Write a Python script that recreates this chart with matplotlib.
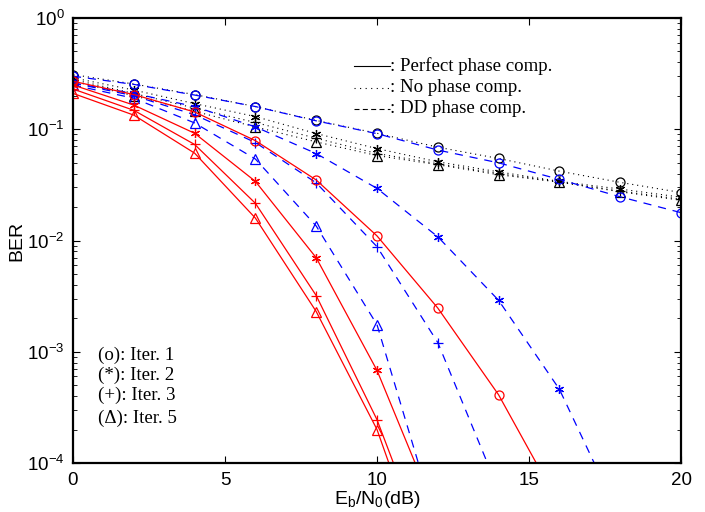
import matplotlib
matplotlib.use("Agg")
import matplotlib.pyplot as plt
import numpy as np

# ---------------- data ----------------
snr_full = [0, 2, 4, 6, 8, 10, 12, 14, 16, 18, 20]

# Perfect phase compensation (red, solid)
perf_x_it1 = [0, 2, 4, 6, 8, 10, 12, 14, 16]
perf_it1 = [0.27, 0.205, 0.143, 0.079, 0.035, 0.011, 0.00247, 0.00041, 4.2e-5]
perf_x_it2 = [0, 2, 4, 6, 8, 10, 12]
perf_it2 = [0.25, 0.165, 0.092, 0.034, 0.0070, 6.8e-4, 3.2e-5]
perf_x_it3 = [0, 2, 4, 6, 8, 10, 12]
perf_it3 = [0.23, 0.148, 0.073, 0.0216, 0.0032, 2.45e-4, 8.9e-6]
perf_x_it5 = [0, 2, 4, 6, 8, 10, 12]
perf_it5 = [0.21, 0.134, 0.061, 0.0159, 0.0023, 2.0e-4, 5.7e-6]

# DD phase compensation (blue, dashed)
dd_x_it1 = snr_full
dd_it1 = [0.30, 0.253, 0.203, 0.16, 0.119, 0.0913, 0.065, 0.0499, 0.0354, 0.0247, 0.0178]
dd_x_it2 = [0, 2, 4, 6, 8, 10, 12, 14, 16, 18]
dd_it2 = [0.26, 0.21, 0.16, 0.105, 0.0605, 0.0294, 0.0108, 0.0029, 4.6e-4, 3.2e-5]
dd_x_it3 = [0, 2, 4, 6, 8, 10, 12, 14]
dd_it3 = [0.26, 0.20, 0.135, 0.076, 0.033, 0.0088, 0.00121, 5.7e-5]
dd_x_it5 = [0, 2, 4, 6, 8, 10, 12]
dd_it5 = [0.25, 0.19, 0.114, 0.054, 0.0135, 0.00175, 2.6e-5]

# No phase compensation (black, dotted)
no_it1 = [0.31, 0.255, 0.205, 0.16, 0.12, 0.092, 0.069, 0.0546, 0.042, 0.0333, 0.027]
no_it2 = [0.29, 0.225, 0.17, 0.13, 0.0915, 0.067, 0.051, 0.0414, 0.034, 0.029, 0.0245]
no_it3 = [0.28, 0.21, 0.155, 0.115, 0.083, 0.0605, 0.049, 0.040, 0.0335, 0.0278, 0.0235]
no_it5 = [0.27, 0.20, 0.145, 0.105, 0.077, 0.058, 0.048, 0.039, 0.0335, 0.0274, 0.023]

x_ticks = [0, 5, 10, 15, 20]
legend_lines = [": Perfect phase comp.", ": No phase comp.", ": DD phase comp."]
iter_labels = ["(o): Iter. 1", "(*): Iter. 2", "(+): Iter. 3", "(\u0394): Iter. 5"]

# ---------------- style ----------------
plt.rcParams['font.family'] = ['Liberation Sans', 'DejaVu Sans']
plt.rcParams['mathtext.default'] = 'regular'

fig = plt.figure(figsize=(7.05, 5.12), dpi=100)
ax = fig.add_axes([73/705, 1 - 463/512, 608/705, 445/512])

asterisk = (6, 2, 0)
markers = ['o', asterisk, '+', '^']
ms = 6.5

no_style = dict(color='black', lw=0.8, linestyle=(0, (1, 3.5)))
dd_style = dict(color='#0000ff', lw=0.9, linestyle=(0, (6.5, 5.5)))
perf_style = dict(color='#ff0000', lw=0.9, linestyle='-')

for ys, m in zip([no_it1, no_it2, no_it3, no_it5], markers):
    ax.plot(snr_full, ys, marker=m, ms=ms, mfc='none', mew=0.9, **no_style)

for xs, ys, m in zip([dd_x_it1, dd_x_it2, dd_x_it3, dd_x_it5],
                     [dd_it1, dd_it2, dd_it3, dd_it5], markers):
    ax.plot(xs, ys, marker=m, ms=ms, mfc='none', mew=0.9, **dd_style)

for xs, ys, m in zip([perf_x_it1, perf_x_it2, perf_x_it3, perf_x_it5],
                     [perf_it1, perf_it2, perf_it3, perf_it5], markers):
    ax.plot(xs, ys, marker=m, ms=ms, mfc='none', mew=0.9, **perf_style)

ax.set_yscale('log')
ax.set_xlim(0, 20)
ax.set_ylim(1e-4, 1)
ax.set_xticks(x_ticks)
ax.set_xticks([], minor=True)
ax.tick_params(which='both', direction='in', top=True, right=True,
               labelsize=13.5)
ax.tick_params(axis='x', which='major', pad=6.5)
ax.tick_params(axis='y', which='major', pad=6)
ax.tick_params(which='major', length=5, width=0.8)
ax.tick_params(which='minor', length=3, width=0.6)
for s in ax.spines.values():
    s.set_linewidth(1.6)

ax.set_xlabel(r'$E_b/N_0$(dB)', fontsize=14)
ax.xaxis.set_label_coords(0.5, -0.083)
ax.xaxis.label.set_va('center')
ax.set_ylabel('BER', fontsize=14)
ax.yaxis.set_label_coords(-0.092, 0.5)
ax.yaxis.label.set_va('center')

# line-style key (top)
key_styles = [dict(linestyle='-'), dict(linestyle=(0, (1, 4))), dict(linestyle=(0, (4.5, 3)))]
key_y = [0.892, 0.843, 0.796]
for txt, st, yy in zip(legend_lines, key_styles, key_y):
    ax.plot([0.462, 0.521], [yy, yy], transform=ax.transAxes, color='black',
            lw=0.8, **st)
    ax.text(0.521, yy, txt, transform=ax.transAxes, fontsize=13.6,
            family=['Liberation Serif', 'DejaVu Serif'], va='center', ha='left')

# iteration key (bottom-left)
iter_y = [0.241, 0.196, 0.153, 0.101]
for txt, yy in zip(iter_labels, iter_y):
    ax.text(0.041, yy, txt, transform=ax.transAxes, fontsize=13.6,
            family=['Liberation Serif', 'DejaVu Serif'], va='center', ha='left')

fig.savefig('out.png', dpi=100)
